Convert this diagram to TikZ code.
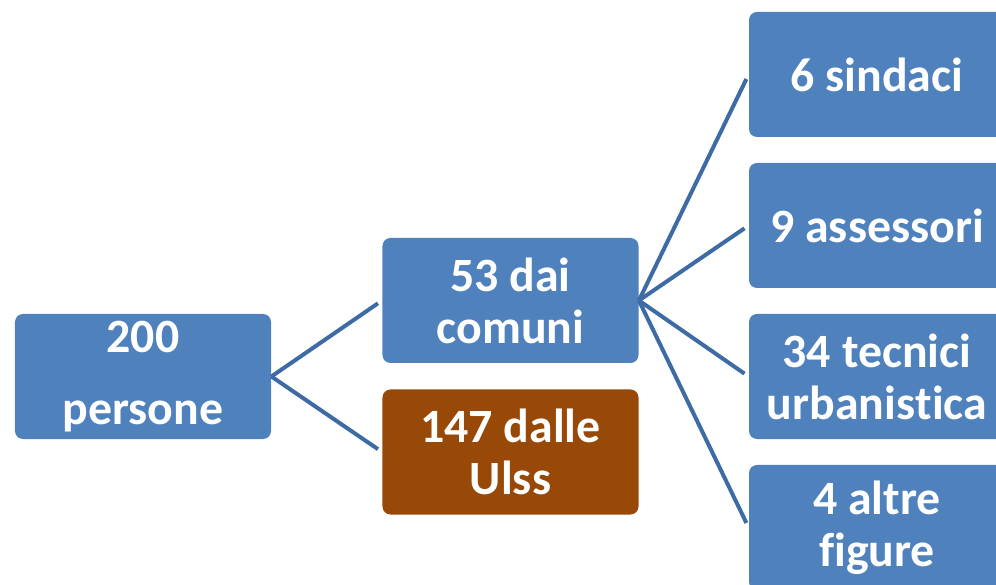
\documentclass[tikz,border=0pt]{standalone}
\usepackage{fontspec}
\setmainfont[Ligatures={NoCommon,NoRequired,NoContextual},Contextuals=NoAlternate]{Carlito}
\definecolor{boxblue}{HTML}{4F81BD}
\definecolor{boxbrown}{HTML}{984807}
\definecolor{linkblue}{HTML}{3E6BA3}
\begin{document}
\begin{tikzpicture}[x=0.5bp,y=-0.5bp,
	cell/.style={fill=boxblue,rounded corners=4bp,minimum width=128bp,minimum height=62.5bp,
		inner sep=0pt,align=center,text=white,font=\fontsize{24}{26}\selectfont\bfseries},
	link/.style={draw=linkblue,line width=2bp,shorten >=2.5bp}]
					\clip (0,0) rectangle (996,585);
					\node[cell] (tot) at (143,376.5) {200\\[10.5bp]persone};
					\node[cell] (com) at (510.5,300.5) {53 dai\\comuni};
					\node[cell,fill=boxbrown] (ulss) at (510.5,452) {147 dalle\\Ulss};
					\node[cell] (sind) at (877,74.5) {6 sindaci};
					\node[cell] (ass) at (877,225.5) {9 assessori};
					\node[cell] (tec) at (877,376.5) {34 tecnici\\urbanis\kern0pt tica};
					\node[cell] (alt) at (877,527.5) {4 altre\\figure};
					\draw[link] (tot.east)--(com.west);
					\draw[link] (tot.east)--(ulss.west);
					\draw[link] (com.east)--(sind.west);
					\draw[link] (com.east)--(ass.west);
					\draw[link] (com.east)--(tec.west);
					\draw[link] (com.east)--(alt.west);
\end{tikzpicture}
\end{document}
